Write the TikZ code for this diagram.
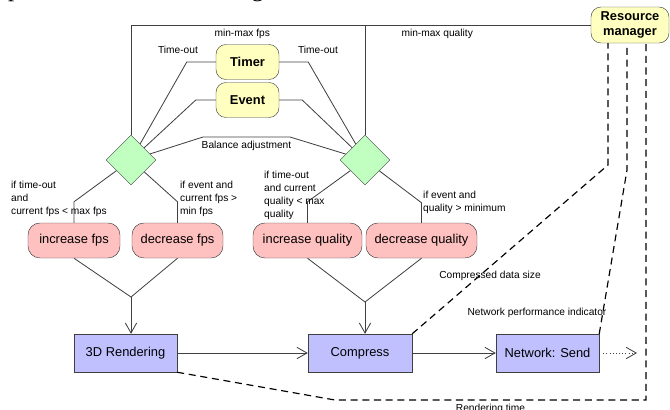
\documentclass[tikz,border=0pt]{standalone}
\usepackage{fontspec}
\setmainfont{Liberation Sans}
\newfontfamily\pagefont{Liberation Serif}
\usetikzlibrary{arrows.meta,shapes.geometric}
\definecolor{ctrlyellow}{HTML}{FFFFC0}
\definecolor{actpink}{HTML}{FFC0C0}
\definecolor{condgreen}{HTML}{C0FFC0}
\definecolor{procblue}{HTML}{C0C0FF}
\definecolor{edgegray}{HTML}{404040}
\tikzset{
  >={Straight Barb[length=3mm,width=3.4mm]},
  ctrl/.style={draw=edgegray, fill=ctrlyellow, rounded corners=3mm, minimum width=1.89cm, minimum height=1.05cm, align=center, inner sep=1pt, font=\fontsize{11}{13}\selectfont\bfseries},
  act/.style={draw=edgegray, fill=actpink, rounded corners=3.6mm, minimum height=1.05cm, font=\fontsize{11}{13}\selectfont},
  proc/.style={draw=edgegray, fill=procblue, minimum width=3.09cm, minimum height=1.14cm, font=\fontsize{11}{13}\selectfont},
  cond/.style={draw=edgegray, fill=condgreen, diamond, aspect=1, minimum size=1.5cm, inner sep=0pt},
  lbl/.style={font=\fontsize{8.7}{11}\selectfont, align=left},
  cnd/.style={lbl, inner sep=0pt, anchor=north west},
  conn/.style={draw=edgegray, line width=0.7pt},
  flow/.style={conn, ->},
  dashline/.style={black, line width=1pt, dash pattern=on 6pt off 4pt},
}

\begin{document}
\begin{tikzpicture}[x=0.03cm, y=-0.03cm]
    \useasboundingbox (0,0) rectangle (670,409);
    \clip (0,0) rectangle (670,409);

    % page text cut off by the crop
    \node[anchor=base west, inner sep=0pt, font=\pagefont\fontsize{21}{24}\selectfont] (pageText) at (8,-3.5) {procedure is shown in Fig. 3.};

    % control nodes
    \node[ctrl] (timer) at (247.5,62) {Timer};
    \node[ctrl] (event) at (247.5,100) {Event};
    \node[ctrl, minimum width=2.34cm, minimum height=1.08cm] (rm) at (630,25) {Resource\\manager};

    % decisions
    \node[cond] (dFps)  at (131,160) {};
    \node[cond] (dQual) at (365,160) {};

    % actions
    \node[act, minimum width=2.76cm] (incFps)  at (74,240.5)    {increase fps};
    \node[act, minimum width=2.73cm] (decFps)  at (177.5,240.5) {decrease fps};
    \node[act, minimum width=3.27cm] (incQual) at (307.5,240.5) {increase quality};
    \node[act, minimum width=3.33cm] (decQual) at (421.5,240.5) {decrease quality};

    % pipeline
    \node[proc] (render) at (125.5,353) {3D Rendering};
    \node[proc, minimum width=3.12cm] (compress) at (360,353) {Compress};
    \node[proc] (send) at (547.5,353) {Network: Send};
    \coordinate (mergeFps)  at (131,297);
    \coordinate (mergeQual) at (365,302);
    \coordinate (out) at (637,353);

    % limits from the resource manager
    \draw[conn] (dFps.north) |- node[lbl, below, pos=0.621] {min-max fps}
                                 node[lbl, below, pos=0.833] {min-max quality} (rm.west);
    \draw[conn] (dQual.north) -- (dQual.north |- rm.west);

    % timer and event
    \draw[conn] (timer.west) -- ++(-29,0) -- (dFps);
    \draw[conn] (event.west) -- ++(-20,0) -- (dFps);
    \draw[conn] (timer.east) -- ++(29,0) -- (dQual);
    \draw[conn] (event.east) -- ++(23,0) -- (dQual);
    \node[lbl] (toFps)  at (178,50) {Time-out};
    \node[lbl] (toQual) at (318,50) {Time-out};
    \draw[conn] (dFps) -- (203,137) -- node[lbl, below] {Balance adjustment} (290,137) -- (dQual);

    % branches
    \draw[conn] (incFps.north)  -- ++(0,-21) -- (dFps);
    \draw[conn] (decFps.north)  -- ++(0,-21) -- (dFps);
    \draw[conn] (incQual.north) -- ++(0,-21) -- (dQual);
    \draw[conn] (decQual.north) -- ++(0,-20) -- (dQual);
    \node[cnd] (ifIncFps)  at (11,181)  {if time-out\\and\\current fps < max fps};
    \node[cnd] (ifDecFps)  at (180,181) {if event and\\current fps >\\min fps};
    \node[cnd] (ifIncQual) at (264,171) {if time-out\\and current\\quality < max\\quality};
    \node[cnd] (ifDecQual) at (423,191) {if event and\\quality > minimum};

    % merge into pipeline
    \draw[conn] (incFps.south) -- (mergeFps) -- (decFps.south);
    \draw[flow] (mergeFps) -- (mergeFps |- render.north);
    \draw[conn] (incQual.south) -- (mergeQual) -- (decQual.south);
    \draw[flow] (mergeQual) -- (mergeQual |- compress.north);
    \draw[flow] (render) -- (compress);
    \draw[flow] (compress) -- (send);
    \draw[flow, dotted, shorten <=0.12cm] (send.east) -- (out);

    % feedback to the resource manager
    \draw[dashline] (compress.north east) -- (608,165) -- ([xshift=-0.66cm]rm.south);
    \draw[dashline] (send.north east) -- (627,170) -- ([xshift=-0.09cm]rm.south);
    \draw[dashline] (render.south east) -- (335,400) -- node[lbl, below] {Rendering time} (646,400) -- ([xshift=0.48cm]rm.south);
    \node[lbl] (cds) at (490,276) {Compressed data size};
    \node[lbl] (npi) at (537,313) {Network performance indicator};
\end{tikzpicture}
\end{document}
